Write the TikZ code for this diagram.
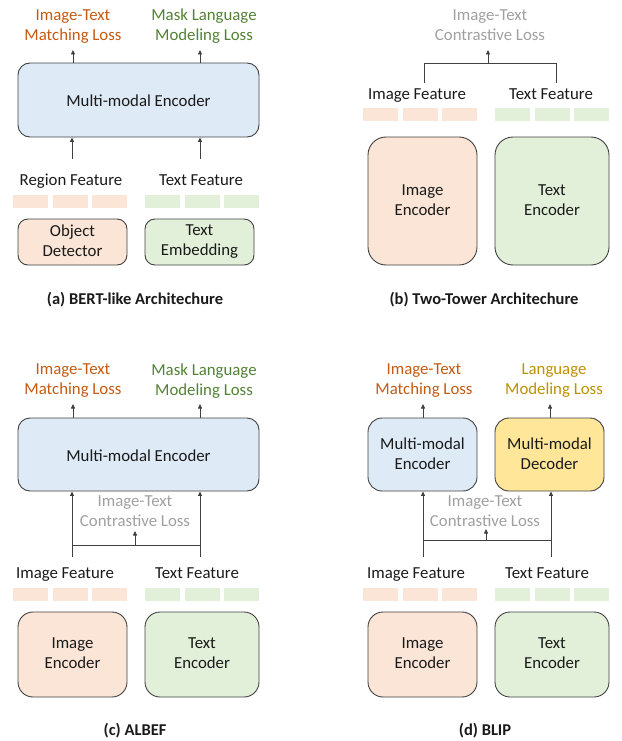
\documentclass[tikz,border=0pt]{standalone}
\usepackage{fontspec}
\setmainfont{Carlito}
\usetikzlibrary{arrows.meta}

\definecolor{lossorange}{HTML}{C55A11}
\definecolor{lossgreen}{HTML}{538135}
\definecolor{lossgold}{HTML}{BF9000}
\definecolor{lossgray}{HTML}{A0A0A0}
\definecolor{fillblue}{HTML}{DEEBF7}
\definecolor{fillpeach}{HTML}{FBE5D6}
\definecolor{fillgreen}{HTML}{E2F0D9}
\definecolor{fillyellow}{HTML}{FFE699}
\definecolor{edge}{HTML}{404040}
\definecolor{ink}{HTML}{1A1A1A}

% invisible strut that fixes the height and depth of every text line
\newcommand\linestrut{\vrule width 0pt height 16pt depth 2pt\relax}

\tikzset{
  txt/.style={align=center, inner sep=0pt, text=ink,
    font=\fontsize{16.8}{20}\selectfont,
    execute at begin node=\linestrut, execute at end node=\linestrut},
  box/.style={txt, draw=edge, line width=0.9pt},
  label/.style={txt},
  loss/.style={txt},
  caption/.style={txt, font=\fontsize{16.5}{20}\selectfont\bfseries},
  bar/.style={fill=#1, draw=none, minimum width=35pt, minimum height=13pt, inner sep=0pt},
  arr/.style={draw=edge, line width=0.75pt, -{Triangle[length=4.5pt,width=4pt]}},
  link/.style={draw=edge, line width=0.75pt},
}

% three feature tokens in a row: name prefix, colour, y centre, left edge
\newcommand\tokenrow[4]{%
  \foreach \k/\dx in {1/0,2/39.5,3/79}{
    \node[bar=#2, anchor=west] (#1\k) at ({#4+\dx},#3) {};
  }%
}

\begin{document}
\begin{tikzpicture}[x=1pt,y=-1pt]
\useasboundingbox (0,0) rectangle (621,741);

% ---------------- (a) BERT-like ----------------
\node[loss, text=lossorange] (a-itm) at (73,26.5) {Image-Text\\Matching Loss};
\node[loss, text=lossgreen] (a-mlm) at (204,26.5) {Mask Language\\Modeling Loss};
\node[box, fill=fillblue, rounded corners=12pt, minimum width=241pt, minimum height=74pt]
  (a-enc) at (138.5,100) {Multi-modal Encoder};
\coordinate (a-o1) at (73,50);
\coordinate (a-o2) at (200,50);
\draw[arr] (a-o1 |- a-enc.north) -- (a-o1);
\draw[arr] (a-o2 |- a-enc.north) -- (a-o2);
\node[label] (a-rf) at (71,178.5) {Region Feature};
\node[label] (a-tf) at (201,178.5) {Text Feature};
\coordinate (a-i1) at (72,159);
\coordinate (a-i2) at (200,159);
\draw[arr] (a-i1) -- (a-i1 |- a-enc.south);
\draw[arr] (a-i2) -- (a-i2 |- a-enc.south);
\tokenrow{a-rb}{fillpeach}{201.5}{13}
\tokenrow{a-tb}{fillgreen}{201.5}{145}
\node[box, fill=fillpeach, rounded corners=10pt, minimum width=109pt, minimum height=46pt]
  (a-det) at (72.5,242) {Object\\Detector};
\node[box, fill=fillgreen, rounded corners=10pt, minimum width=109pt, minimum height=46pt]
  (a-emb) at (199.5,242) {Text\\Embedding};
\node[caption] (a-cap) at (135,298) {(a) BERT-like Architechure};

% ---------------- (b) Two-Tower ----------------
\node[loss, text=lossgray] (b-itc) at (490,26.5) {Image-Text\\Contrastive Loss};
\coordinate (b-l) at (424,83);
\coordinate (b-r) at (556,83);
\coordinate (b-m) at (488,63);
\coordinate (b-t) at (488,50);
\draw[link] (b-l) -- (b-l |- b-m) -- (b-r |- b-m) -- (b-r);
\draw[arr] (b-m) -- (b-t);
\node[label] (b-if) at (417,92.5) {Image Feature};
\node[label] (b-tf) at (551,92.5) {Text Feature};
\tokenrow{b-ib}{fillpeach}{114.5}{363}
\tokenrow{b-tb}{fillgreen}{114.5}{495}
\node[box, fill=fillpeach, rounded corners=18pt, minimum width=109pt, minimum height=128pt]
  (b-ienc) at (422.5,201) {Image\\Encoder};
\node[box, fill=fillgreen, rounded corners=18pt, minimum width=114pt, minimum height=128pt]
  (b-tenc) at (552,201) {Text\\Encoder};
\node[caption] (b-cap) at (484,298) {(b) Two-Tower Architechure};

% ---------------- (c) ALBEF ----------------
\node[loss, text=lossorange] (c-itm) at (73,381) {Image-Text\\Matching Loss};
\node[loss, text=lossgreen] (c-mlm) at (204,381) {Mask Language\\Modeling Loss};
\node[box, fill=fillblue, rounded corners=12pt, minimum width=241pt, minimum height=73pt]
  (c-enc) at (138.5,454.5) {Multi-modal Encoder};
\coordinate (c-o1) at (73,404);
\coordinate (c-o2) at (200,404);
\draw[arr] (c-o1 |- c-enc.north) -- (c-o1);
\draw[arr] (c-o2 |- c-enc.north) -- (c-o2);
\node[loss, text=lossgray] (c-itc) at (135,512) {Image-Text\\Contrastive Loss};
\coordinate (c-i1) at (72,557);
\coordinate (c-i2) at (200,557);
\coordinate (c-m) at (135,545);
\coordinate (c-t) at (135,531);
\draw[arr] (c-i1) -- (c-i1 |- c-enc.south);
\draw[arr] (c-i2) -- (c-i2 |- c-enc.south);
\draw[link] (c-i1 |- c-m) -- (c-i2 |- c-m);
\draw[arr] (c-m) -- (c-t);
\node[label] (c-if) at (65,571.5) {Image Feature};
\node[label] (c-tf) at (197,571.5) {Text Feature};
\tokenrow{c-ib}{fillpeach}{594.5}{13}
\tokenrow{c-tb}{fillgreen}{594.5}{145}
\node[box, fill=fillpeach, rounded corners=15pt, minimum width=109pt, minimum height=85pt]
  (c-ienc) at (72.5,654.5) {Image\\Encoder};
\node[box, fill=fillgreen, rounded corners=15pt, minimum width=114pt, minimum height=85pt]
  (c-tenc) at (202,654.5) {Text\\Encoder};
\node[caption] (c-cap) at (135,729) {(c) ALBEF};

% ---------------- (d) BLIP ----------------
\node[loss, text=lossorange] (d-itm) at (424,381) {Image-Text\\Matching Loss};
\node[loss, text=lossgold] (d-lm) at (554,381) {Language\\Modeling Loss};
\node[box, fill=fillblue, rounded corners=14pt, minimum width=109pt, minimum height=73pt]
  (d-enc) at (422.5,454.5) {Multi-modal\\Encoder};
\node[box, fill=fillyellow, rounded corners=14pt, minimum width=109pt, minimum height=73pt]
  (d-dec) at (549.5,454.5) {Multi-modal\\Decoder};
\coordinate (d-o1) at (423,404);
\coordinate (d-o2) at (550,404);
\draw[arr] (d-o1 |- d-enc.north) -- (d-o1);
\draw[arr] (d-o2 |- d-dec.north) -- (d-o2);
\node[loss, text=lossgray] (d-itc) at (485,512) {Image-Text\\Contrastive Loss};
\coordinate (d-i1) at (423,557);
\coordinate (d-i2) at (551,557);
\coordinate (d-m) at (486,540);
\coordinate (d-t) at (486,529);
\draw[arr] (d-i1) -- (d-i1 |- d-enc.south);
\draw[arr] (d-i2) -- (d-i2 |- d-dec.south);
\draw[link] (d-i1 |- d-m) -- (d-i2 |- d-m);
\draw[arr] (d-m) -- (d-t);
\node[label] (d-if) at (416,571.5) {Image Feature};
\node[label] (d-tf) at (547,571.5) {Text Feature};
\tokenrow{d-ib}{fillpeach}{594.5}{363}
\tokenrow{d-tb}{fillgreen}{594.5}{495}
\node[box, fill=fillpeach, rounded corners=15pt, minimum width=109pt, minimum height=85pt]
  (d-ienc) at (422.5,654.5) {Image\\Encoder};
\node[box, fill=fillgreen, rounded corners=15pt, minimum width=114pt, minimum height=85pt]
  (d-tenc) at (552,654.5) {Text\\Encoder};
\node[caption] (d-cap) at (485,729) {(d) BLIP};
\end{tikzpicture}
\end{document}
